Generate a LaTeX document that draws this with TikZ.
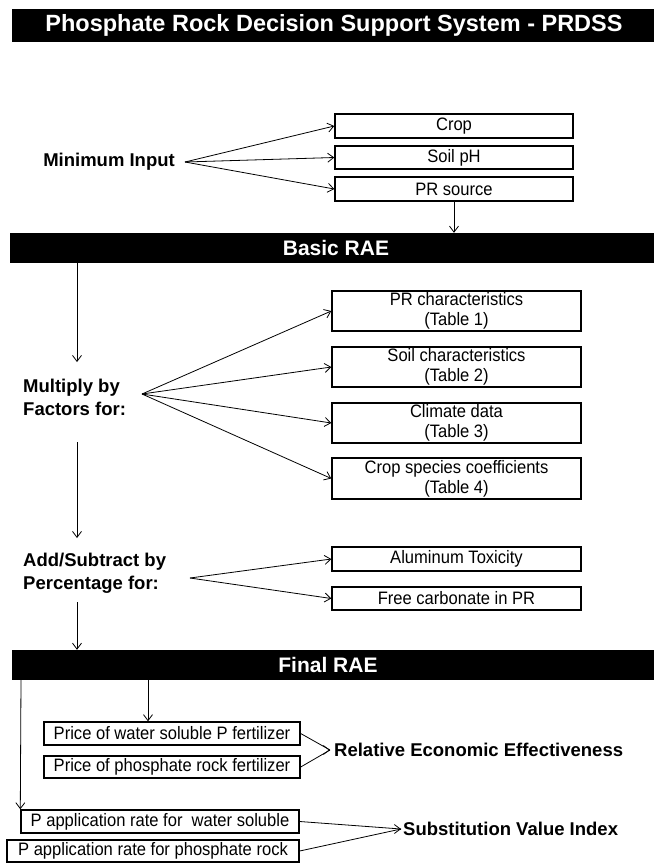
\documentclass[tikz,border=0pt]{standalone}
\usepackage{fontspec}
\setmainfont{Liberation Sans}
\newfontfamily\boxfont[FakeStretch=0.92]{Liberation Sans}
\usetikzlibrary{arrows.meta}
\begin{document}
\begin{tikzpicture}[x=1pt,y=-1pt,
  bar/.style={fill=black,draw=none,inner sep=0pt},
  bartext/.style={text=white,inner sep=0pt,font=\fontsize{21}{24}\selectfont\bfseries},
  box/.style={draw,line width=1.4pt,inner sep=0pt,align=center,
    font=\boxfont\fontsize{18}{20}\selectfont},
  lbl/.style={font=\fontsize{18.5}{23}\selectfont\bfseries,align=left,inner sep=0pt},
  arr/.style={line width=0.8pt,-{Straight Barb[length=6pt,width=9pt,line width=0.8pt]}},
  ln/.style={line width=0.8pt}]

\path[use as bounding box] (0,0) rectangle (654,863);

% bars
\node[bar,minimum width=642pt,minimum height=33pt] (title) at (333,25.5) {};
\node[bartext,font=\fontsize{23.5}{26}\selectfont\bfseries] (titletext) at (334,25.5) {Phosphate Rock Decision Support System - PRDSS};
\node[bar,minimum width=644pt,minimum height=30pt] (basic) at (332,248) {};
\node[bartext] (basictext) at (336,248) {Basic RAE};
\node[bar,minimum width=642pt,minimum height=30pt] (final) at (333,665) {};
\node[bartext] (finaltext) at (328,665) {Final RAE};

% minimum input
\node[lbl,anchor=east] (mi) at (175,162) {Minimum Input};
\coordinate (mio) at (185,162);
\node[box,minimum width=238pt,minimum height=24pt] (crop) at (454,126) {Crop};
\node[box,minimum width=238pt,minimum height=23pt] (soilph) at (454,157.5) {Soil pH};
\node[box,minimum width=238pt,minimum height=24pt] (prs) at (454,189) {PR source};
\draw[arr] (mio) -- (crop.west);
\draw[arr] (mio) -- (soilph.west);
\draw[arr] (mio) -- (prs.west);
\draw[arr] (prs.south) -- (prs.south |- basic.north);

% multiply
\node[lbl,anchor=west] (mult) at (23,397) {Multiply by\\Factors for:};
\coordinate (multo) at (142,394);
\node[box,minimum width=249pt,minimum height=40pt] (prc) at (456.5,311) {PR characteristics\\(Table 1)};
\node[box,minimum width=249pt,minimum height=40pt] (soilc) at (456.5,367) {Soil characteristics\\(Table 2)};
\node[box,minimum width=249pt,minimum height=40pt] (clim) at (456.5,423) {Climate data\\(Table 3)};
\node[box,minimum width=249pt,minimum height=41pt] (cropsp) at (456.5,478.5) {Crop species coefficients\\(Table 4)};
\draw[arr] (multo) -- (prc.west);
\draw[arr] (multo) -- (soilc.west);
\draw[arr] (multo) -- (clim.west);
\draw[arr] (multo) -- (cropsp.west);

% add/subtract
\node[lbl,anchor=west] (adds) at (23,573.5) {Add/Subtract by\\Percentage for:};
\coordinate (addo) at (190,578);
\node[box,minimum width=249pt,minimum height=24pt] (alu) at (456.5,559) {Aluminum Toxicity};
\node[box,minimum width=249pt,minimum height=23pt] (fcar) at (456.5,598.5) {Free carbonate in PR};
\draw[arr] (addo) -- (alu.west);
\draw[arr] (addo) -- (fcar.west);

% left column
\coordinate (c1) at (77,362);
\coordinate (c2a) at (77,442);
\coordinate (c2b) at (77,538);
\coordinate (c3) at (77,602);
\draw[arr] (basic.south -| c1) -- (c1);
\draw[arr] (c2a) -- (c2b);
\draw[arr] (c3) -- (c3 |- final.north);

% economic part
\node[box,minimum width=256pt,minimum height=23pt] (prw) at (172,733.5) {Price of water soluble P fertilizer};
\node[box,minimum width=256pt,minimum height=22pt] (prp) at (172,767) {Price of phosphate rock fertilizer};
\node[box,minimum width=278pt,minimum height=23pt] (paw) at (160,821.5) {P application rate for~ water soluble};
\node[box,minimum width=292pt,minimum height=22pt] (pap) at (153,851) {P application rate for phosphate rock};

\coordinate (c4) at (21,0);
\coordinate (c5) at (148,0);
\draw[arr] (final.south -| c4) -- (paw.north west);
\draw[arr] (final.south -| c5) -- (c5 |- prw.north);

\coordinate (ree) at (330,750);
\draw[ln] (prw.east) -- (ree);
\draw[ln] (prp.east) -- (ree);
\draw[arr] (ree) ++(-1,0) -- (ree);
\node[lbl,anchor=west] (reetext) at (334,750) {Relative Economic Effectiveness};

\coordinate (svi) at (401,829);
\draw[ln] (paw.east) -- (svi);
\draw[ln] (pap.east) -- (svi);
\draw[arr] (svi) ++(-1,0) -- (svi);
\node[lbl,anchor=west] (svitext) at (403,829) {Substitution Value Index};
\end{tikzpicture}
\end{document}
